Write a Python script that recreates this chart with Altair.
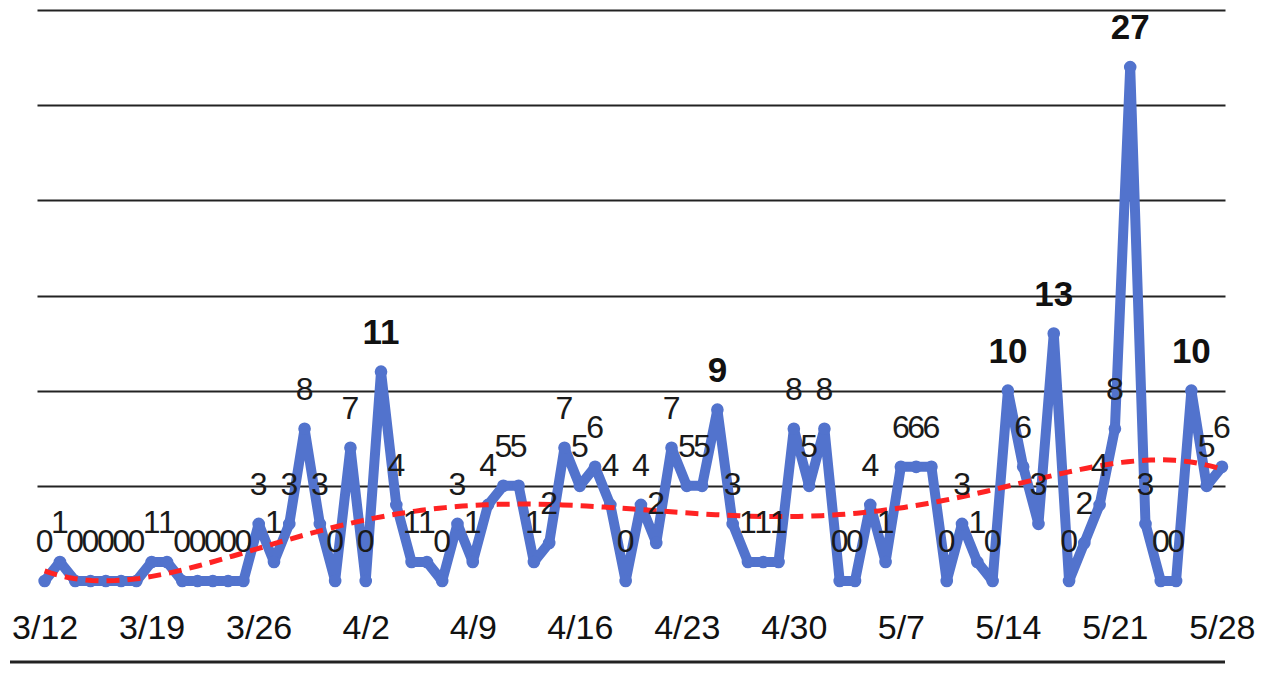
import json
import altair as alt
import pandas as pd

# Daily counts, 3/12 .. 5/28
day_labels = [
    "3/12", "3/13", "3/14", "3/15", "3/16", "3/17", "3/18", "3/19", "3/20", "3/21",
    "3/22", "3/23", "3/24", "3/25", "3/26", "3/27", "3/28", "3/29", "3/30", "3/31",
    "4/1", "4/2", "4/3", "4/4", "4/5", "4/6", "4/7", "4/8", "4/9", "4/10",
    "4/11", "4/12", "4/13", "4/14", "4/15", "4/16", "4/17", "4/18", "4/19", "4/20",
    "4/21", "4/22", "4/23", "4/24", "4/25", "4/26", "4/27", "4/28", "4/29", "4/30",
    "5/1", "5/2", "5/3", "5/4", "5/5", "5/6", "5/7", "5/8", "5/9", "5/10",
    "5/11", "5/12", "5/13", "5/14", "5/15", "5/16", "5/17", "5/18", "5/19", "5/20",
    "5/21", "5/22", "5/23", "5/24", "5/25", "5/26", "5/27", "5/28",
]
values = [
    0, 1, 0, 0, 0, 0, 0, 1, 1, 0,
    0, 0, 0, 0, 3, 1, 3, 8, 3, 0,
    7, 0, 11, 4, 1, 1, 0, 3, 1, 4,
    5, 5, 1, 2, 7, 5, 6, 4, 0, 4,
    2, 7, 5, 5, 9, 3, 1, 1, 1, 8,
    5, 8, 0, 0, 4, 1, 6, 6, 6, 0,
    3, 1, 0, 10, 6, 3, 13, 0, 2, 4,
    8, 27, 3, 0, 0, 10, 5, 6,
]
tick_labels = ["3/12", "3/19", "3/26", "4/2", "4/9", "4/16", "4/23",
               "4/30", "5/7", "5/14", "5/21", "5/28"]
grid_values = [5, 10, 15, 20, 25, 30]

df = pd.DataFrame({"day": list(range(len(values))), "date": day_labels, "value": values})

FONT = "Liberation Sans, Arial, sans-serif"
BLUE = "#5273cd"
RED = "#ff2323"

label_expr = json.dumps(tick_labels) + "[round(datum.value / 7)]"

x = alt.X(
    "day:Q",
    scale=alt.Scale(domain=[-0.5, 77.2], nice=False, zero=False),
    axis=alt.Axis(
        values=list(range(0, 78, 7)),
        labelExpr=label_expr,
        grid=False, domain=False, ticks=False,
        labelPadding=47, labelBaseline="middle",
        labelFontSize=34, labelFont=FONT, labelColor="#111111",
        labelFlush=False, labelOverlap=False, title=None,
    ),
)
y = alt.Y(
    "value:Q",
    scale=alt.Scale(domain=[0, 30], nice=False),
    axis=alt.Axis(
        values=grid_values, labels=False, ticks=False, domain=False,
        grid=True, gridColor="#222222", gridWidth=2, title=None,
    ),
)

base = alt.Chart(df)

line = base.mark_line(color=BLUE, strokeWidth=10, strokeCap="round",
                      strokeJoin="round").encode(x=x, y=y)
points = base.mark_circle(color=BLUE, size=160, opacity=1).encode(x=x, y=y)

trend = base.transform_regression(
    "day", "value", method="poly", order=5
).mark_line(color=RED, strokeWidth=5, strokeDash=[13, 8]).encode(x=x, y=y)

labels_small = base.transform_filter("datum.value < 9").mark_text(
    font=FONT, fontSize=32, color="#1a1a1a", dy=-39, baseline="middle"
).encode(x=x, y=y, text="value:Q")

labels_big = base.transform_filter("datum.value >= 9").mark_text(
    font=FONT, fontSize=35, fontWeight="bold", color="#111111", dy=-39,
    baseline="middle"
).encode(x=x, y=y, text="value:Q")

bottom_rule = alt.Chart(pd.DataFrame({"k": [0]})).mark_rule(
    color="#222222", strokeWidth=3
).encode(x=alt.value(-27), x2=alt.value(1188), y=alt.value(652))

chart = alt.layer(
    line, points, trend, labels_small, labels_big, bottom_rule
).properties(
    width=1188, height=571,
    autosize=alt.AutoSizeParams(type="none"),
    padding={"left": 29, "top": 2, "right": 36, "bottom": 83},
    background="white",
).configure_view(stroke=None)

chart.save("out.html", embed_options={"renderer": "svg", "actions": False})
